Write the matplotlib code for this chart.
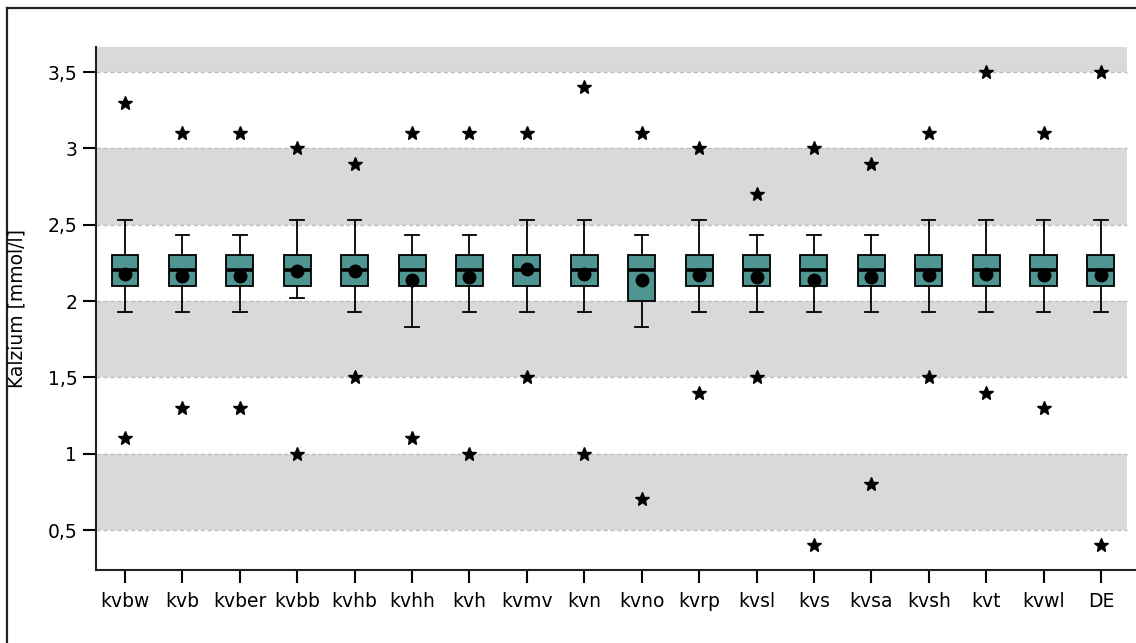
import matplotlib
matplotlib.use("Agg")
import matplotlib.pyplot as plt
from matplotlib.lines import Line2D
from matplotlib.ticker import FuncFormatter

# Kalzium [mmol/l] per KV region
categories = ["kvbw", "kvb", "kvber", "kvbb", "kvhb", "kvhh", "kvh", "kvmv", "kvn",
              "kvno", "kvrp", "kvsl", "kvs", "kvsa", "kvsh", "kvt", "kvwl", "DE"]
q1 = [2.1, 2.1, 2.1, 2.1, 2.1, 2.1, 2.1, 2.1, 2.1,
      2.0, 2.1, 2.1, 2.1, 2.1, 2.1, 2.1, 2.1, 2.1]
medians = [2.2] * 18
q3 = [2.3] * 18
whisker_hi = [2.53, 2.43, 2.43, 2.53, 2.53, 2.43, 2.43, 2.53, 2.53,
              2.43, 2.53, 2.43, 2.43, 2.43, 2.53, 2.53, 2.53, 2.53]
whisker_lo = [1.93, 1.93, 1.93, 2.02, 1.93, 1.83, 1.93, 1.93, 1.93,
              1.83, 1.93, 1.93, 1.93, 1.93, 1.93, 1.93, 1.93, 1.93]
means = [2.18, 2.165, 2.165, 2.195, 2.195, 2.14, 2.155, 2.21, 2.18,
         2.14, 2.17, 2.155, 2.14, 2.155, 2.17, 2.18, 2.17, 2.17]
max_vals = [3.3, 3.1, 3.1, 3.0, 2.9, 3.1, 3.1, 3.1, 3.4,
            3.1, 3.0, 2.7, 3.0, 2.9, 3.1, 3.5, 3.1, 3.5]
min_vals = [1.1, 1.3, 1.3, 1.0, 1.5, 1.1, 1.0, 1.5, 1.0,
            0.7, 1.4, 1.5, 0.4, 0.8, 1.5, 1.4, 1.3, 0.4]

yticks = [0.5, 1.0, 1.5, 2.0, 2.5, 3.0, 3.5]

BOX_COLOR = "#4f9591"
BAND_COLOR = "#d9d9d9"
GRID_COLOR = "#bdbdbd"

plt.rcParams["font.family"] = "DejaVu Sans"

fig = plt.figure(figsize=(11.36, 6.43), dpi=100)
ax = fig.add_axes([96 / 1136, 73 / 643, 1040 / 1136, 523 / 643])

ymin, ymax = 0.238, 3.664
ax.set_ylim(ymin, ymax)
ax.set_xlim(-0.505, 17.61)

# alternating background bands (0.5-1, 1.5-2, 2.5-3, above 3.5)
band_end = 1031 / 1040
edges = yticks + [ymax]
for i in range(0, len(edges) - 1, 2):
    ax.axhspan(edges[i], edges[i + 1], xmin=0, xmax=band_end,
               color=BAND_COLOR, lw=0, zorder=0)
for y in yticks:
    ax.axhline(y, xmin=0, xmax=band_end, color=GRID_COLOR, lw=1.0,
               ls=(0, (3, 2)), zorder=1)

positions = list(range(len(categories)))
stats = []
for i in positions:
    stats.append(dict(med=medians[i], q1=q1[i], q3=q3[i],
                      whislo=whisker_lo[i], whishi=whisker_hi[i], fliers=[]))

ax.bxp(stats, positions=positions, widths=0.47, patch_artist=True,
       showfliers=False,
       boxprops=dict(facecolor=BOX_COLOR, edgecolor="black", linewidth=1.3),
       medianprops=dict(color="black", linewidth=2.6),
       whiskerprops=dict(color="black", linewidth=1.3),
       capprops=dict(color="black", linewidth=1.3),
       zorder=3)

ax.plot(positions, means, "o", color="black", markersize=9, zorder=4)
ax.plot(positions, max_vals, "*", color="black", markersize=10.5, zorder=4)
ax.plot(positions, min_vals, "*", color="black", markersize=10.5, zorder=4)

ax.set_xticks(positions)
ax.set_xticklabels(categories)
ax.set_yticks(yticks)
ax.yaxis.set_major_formatter(
    FuncFormatter(lambda v, p: f"{v:g}".replace(".", ",")))

ax.tick_params(axis="both", direction="out", length=9.5, width=1.5,
               labelsize=13.5, colors="black", pad=4)
ax.tick_params(axis="x", pad=6)

for side in ["top", "right"]:
    ax.spines[side].set_visible(False)
for side in ["left", "bottom"]:
    ax.spines[side].set_linewidth(1.5)
    ax.spines[side].set_color("#222222")

fig.text(17 / 1136, 1 - 308 / 643, "Kalzium [mmol/l]", rotation=90,
         ha="center", va="center", fontsize=13.5)

# outer frame (left and top edges visible)
fx = 6.5 / 1136
fy = 1 - 8 / 643
fig.add_artist(Line2D([fx, fx], [0, fy], transform=fig.transFigure,
                      color="#222222", lw=1.6))
fig.add_artist(Line2D([fx, 1], [fy, fy], transform=fig.transFigure,
                      color="#222222", lw=1.6))

fig.savefig("out.png", dpi=100)
